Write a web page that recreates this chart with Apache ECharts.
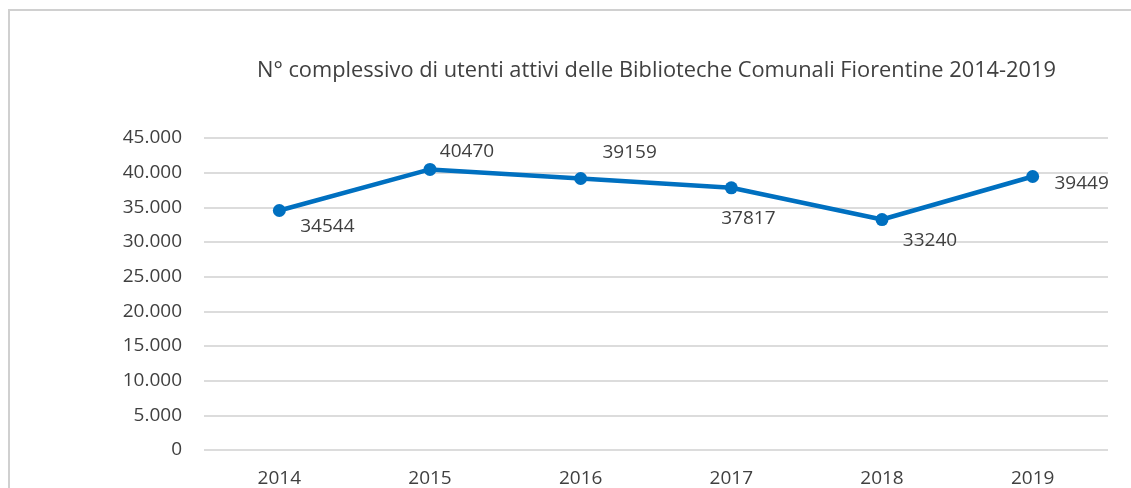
<!DOCTYPE html>
<html>
	<head>
		<meta charset="utf-8" />
		<title>Utenti attivi Biblioteche Comunali Fiorentine</title>
		<script src="https://cdn.jsdelivr.net/npm/echarts@6/dist/echarts.min.js"></script>
		<style>
			html, body { margin: 0; padding: 0; background: #fff; }
			#main { width: 1131px; height: 488px; }
		</style>
	</head>
	<body>
		<div id="main"></div>
	</body>
	<script type="text/javascript">
		// dati
		var anni = ['2014', '2015', '2016', '2017', '2018', '2019'];
		var utenti = [34544, 40470, 39159, 37817, 33240, 39449];
		var titolo = 'N° complessivo di utenti attivi delle Biblioteche Comunali Fiorentine 2014-2019';

		// spostamento etichette (come nel grafico Excel)
		var spostamenti = [[48, 16], [37, -18], [49, -26], [17, 31], [48, 21], [49, 7]];

		var font = 'Open Sans';
		var myCharts = echarts.init(document.getElementById("main"));
		var punti = [];
		for (var i = 0; i < utenti.length; i++) {
			punti.push({
				value: utenti[i],
				label: { offset: spostamenti[i] }
			});
		}
		var option = {
			animation: false,
			textStyle: { fontFamily: font },
			graphic: [{
				type: 'rect',
				shape: { x: 9, y: 10, width: 1200, height: 600 },
				style: { fill: 'none', stroke: '#d0d0d0', lineWidth: 2 }
			}],
			title: {
				text: titolo,
				left: 252,
				top: 55,
				textStyle: { fontFamily: font, fontSize: 21.8, fontWeight: 'normal', color: '#404040' }
			},
			grid: { left: 204, right: 23, top: 138, bottom: 38 },
			xAxis: {
				type: 'category',
				data: anni,
				axisLine: { show: false },
				axisTick: { show: false },
				axisLabel: { color: '#404040', fontSize: 19, margin: 19 }
			},
			yAxis: {
				type: 'value',
				min: 0,
				max: 45000,
				interval: 5000,
				splitLine: { lineStyle: { color: '#d0d0d0', width: 1.5 } },
				axisLabel: {
					color: '#404040',
					fontSize: 19,
					margin: 22,
					formatter: function (v) {
						return v === 0 ? '0' : (v / 1000).toFixed(3);
					}
				}
			},
			series: [{
				type: 'line',
				data: punti,
				symbol: 'circle',
				symbolSize: 13,
				lineStyle: { color: '#0070C0', width: 4.5 },
				itemStyle: { color: '#0070C0' },
				label: {
					show: true,
					position: 'inside',
					color: '#404040',
					fontSize: 19
				}
			}]
		};
		myCharts.setOption(option);
	</script>
</html>
